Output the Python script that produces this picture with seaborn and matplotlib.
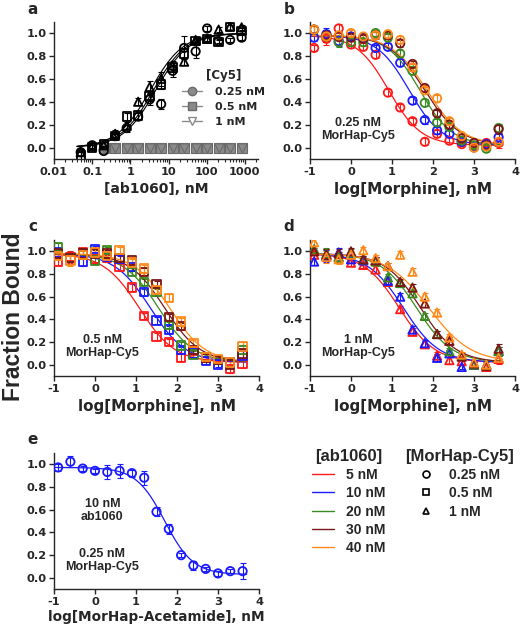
"""Competition / saturation binding curves for ab1060 and MorHap-Cy5."""

import numpy as np
import pandas as pd
import matplotlib
matplotlib.use("Agg")
import matplotlib.pyplot as plt
from matplotlib.lines import Line2D
from matplotlib.ticker import FuncFormatter, MultipleLocator, LogLocator, NullFormatter
import seaborn as sns

# ---------------- data ----------------
# panel a: saturation binding, x = [ab1060] in nM
a_conc = [0.05, 0.1, 0.2, 0.4, 0.8, 1.6, 3.2, 6.4, 12.8, 25.6, 51.2, 102.4, 204.8, 409.6, 819.2]
a_cy5_025 = [-0.04, 0.02, -0.03, 0.10, 0.17, 0.27, 0.42, 0.38, 0.67, 0.87, 0.84, 1.04, 0.93, 0.94, 0.96]
a_cy5_05 = [-0.07, 0.00, 0.03, 0.10, 0.27, 0.28, 0.45, 0.55, 0.70, 0.82, 0.93, 0.95, 0.92, 1.05, 1.02]
a_cy5_1 = [-0.04, 0.01, 0.02, 0.12, 0.19, 0.40, 0.53, 0.60, 0.72, 0.75, 0.94, 0.95, 1.03, 1.06, 1.05]
a_err_025 = [0.03, 0.02, 0.02, 0.03, 0.03, 0.03, 0.05, 0.04, 0.05, 0.10, 0.06, 0.02, 0.02, 0.02, 0.02]
a_err_05 = [0.03, 0.02, 0.02, 0.02, 0.03, 0.03, 0.04, 0.04, 0.04, 0.05, 0.02, 0.02, 0.02, 0.02, 0.02]
a_err_1 = [0.03, 0.02, 0.02, 0.03, 0.03, 0.03, 0.05, 0.06, 0.04, 0.03, 0.02, 0.02, 0.02, 0.03, 0.02]
a_ctrl_conc = [0.2, 0.4, 0.8, 1.6, 3.2, 6.4, 12.8, 25.6, 51.2, 102.4, 204.8, 409.6, 819.2]
a_ctrl = [0.0, 0.0, 0.0, 0.0, 0.0, 0.0, 0.0, 0.0, 0.0, 0.0, 0.0, 0.0, 0.0]
a_fit_ec50 = [4.6, 4.0, 3.3]
a_cy5_labels = ["0.25 nM", "0.5 nM", "1 nM"]

# panels b-e: competition, x = log[competitor] in nM
log_conc = [-0.9, -0.6, -0.3, 0.0, 0.3, 0.6, 0.9, 1.2, 1.5, 1.8, 2.1, 2.4, 2.7, 3.0, 3.3, 3.6]
ab_labels = ["5 nM", "10 nM", "20 nM", "30 nM", "40 nM"]
ab_colors = ["#ff1a1a", "#1a1aff", "#3a8a22", "#7a1616", "#ff8a1a"]

# b: 0.25 nM MorHap-Cy5 (circles)
b_5 = [0.87, 0.95, 1.04, 0.90, 0.88, 0.81, 0.48, 0.35, 0.23, 0.05, 0.12, 0.06, 0.03, 0.00, 0.04, 0.04]
b_10 = [0.96, 0.99, 0.93, 0.97, 0.96, 0.87, 0.88, 0.74, 0.41, 0.24, 0.15, 0.12, 0.05, 0.01, 0.03, 0.09]
b_20 = [1.03, 0.97, 0.92, 0.92, 0.92, 1.00, 0.96, 0.82, 0.67, 0.39, 0.22, 0.18, 0.06, 0.02, -0.01, 0.17]
b_30 = [1.03, 0.98, 0.97, 0.96, 0.95, 0.98, 0.98, 0.91, 0.73, 0.52, 0.30, 0.20, 0.08, 0.04, 0.02, 0.16]
b_40 = [1.03, 0.97, 0.98, 1.00, 0.97, 0.98, 0.99, 0.94, 0.70, 0.50, 0.43, 0.23, 0.10, 0.00, 0.01, 0.05]
b_ic50 = [0.92, 1.42, 1.68, 1.80, 1.85]
b_hill = [1.1, 1.1, 1.1, 1.0, 1.0]

# c: 0.5 nM MorHap-Cy5 (squares)
c_5 = [0.91, 0.95, 0.99, 0.93, 0.94, 0.86, 0.68, 0.43, 0.25, 0.20, 0.06, 0.12, 0.06, 0.04, -0.04, 0.01]
c_10 = [0.99, 0.94, 0.91, 1.02, 0.95, 0.93, 0.86, 0.64, 0.39, 0.31, 0.13, 0.10, 0.03, 0.00, 0.02, 0.08]
c_20 = [1.04, 0.94, 0.97, 0.92, 1.01, 0.94, 0.82, 0.73, 0.64, 0.35, 0.17, 0.09, 0.07, 0.04, 0.01, 0.13]
c_30 = [0.98, 0.94, 0.98, 0.98, 0.98, 0.94, 0.92, 0.82, 0.71, 0.42, 0.34, 0.13, 0.06, 0.04, 0.00, 0.10]
c_40 = [0.96, 0.92, 0.97, 0.99, 0.96, 1.01, 0.90, 0.85, 0.66, 0.59, 0.38, 0.19, 0.07, 0.05, 0.02, 0.16]
c_ic50 = [1.08, 1.35, 1.55, 1.70, 1.82]
c_hill = [1.0, 1.0, 1.0, 1.0, 1.0]

# d: 1 nM MorHap-Cy5 (triangles)
d_5 = [0.97, 0.97, 0.95, 0.90, 0.88, 0.84, 0.73, 0.49, 0.29, 0.18, 0.08, 0.04, 0.03, 0.00, -0.02, 0.05]
d_10 = [0.91, 0.96, 0.99, 0.93, 0.92, 0.92, 0.74, 0.60, 0.31, 0.19, 0.06, 0.10, -0.02, 0.00, 0.00, 0.12]
d_20 = [1.02, 0.98, 0.95, 0.99, 0.93, 0.91, 0.77, 0.72, 0.63, 0.43, 0.27, 0.12, 0.08, 0.00, 0.00, 0.12]
d_30 = [1.00, 0.97, 0.98, 1.00, 0.93, 0.92, 0.87, 0.73, 0.68, 0.54, 0.27, 0.21, 0.07, 0.01, -0.01, 0.14]
d_40 = [1.08, 0.95, 0.93, 0.97, 1.01, 0.94, 0.87, 0.97, 0.82, 0.60, 0.46, 0.24, 0.09, 0.02, 0.00, 0.06]
d_ic50 = [1.18, 1.28, 1.60, 1.70, 1.90]
d_hill = [1.0, 1.0, 1.0, 1.0, 0.85]

# e: MorHap-Acetamide competition, 10 nM ab1060, 0.25 nM MorHap-Cy5
e_frac = [0.97, 1.02, 0.96, 0.94, 0.93, 0.94, 0.92, 0.88, 0.58, 0.43, 0.20, 0.11, 0.08, 0.04, 0.06, 0.06]
e_err = [0.03, 0.05, 0.02, 0.02, 0.06, 0.06, 0.03, 0.06, 0.04, 0.04, 0.02, 0.04, 0.02, 0.02, 0.02, 0.07]
e_ic50 = 1.70
e_hill = 1.25

comp_err = [0.03, 0.05, 0.04, 0.03, 0.03, 0.03, 0.03, 0.03, 0.03, 0.03, 0.03, 0.03, 0.02, 0.02, 0.03, 0.04]

# ---------------- style ----------------
sns.set_style("ticks")
plt.rcParams["font.family"] = ["DejaVu Sans"]
plt.rcParams["font.weight"] = "bold"
plt.rcParams["axes.labelweight"] = "bold"
plt.rcParams["axes.unicode_minus"] = False
plt.rcParams["axes.linewidth"] = 1.0
plt.rcParams["xtick.major.width"] = 1.0
plt.rcParams["ytick.major.width"] = 1.0
plt.rcParams["xtick.major.size"] = 3.5
plt.rcParams["ytick.major.size"] = 3.5
plt.rcParams["xtick.labelsize"] = 8.2
plt.rcParams["ytick.labelsize"] = 8.2
plt.rcParams["axes.labelsize"] = 11

NARROW = ["Liberation Sans", "DejaVu Sans"]
W, H = 520, 633


def rect(left, right, top, bottom):
    """Axes rectangle from pixel edges."""
    return [left / W, 1 - bottom / H, (right - left) / W, (bottom - top) / H]


def logistic_up(x, ec50, hill=1.0, bottom=0.0, top=1.0):
    return bottom + (top - bottom) / (1 + (ec50 / x) ** hill)


def logistic_down(x, ic50, hill=1.0, bottom=0.02, top=0.98):
    return bottom + (top - bottom) / (1 + 10 ** ((x - ic50) * hill))


def hollow(ax):
    """Turn the last seaborn scatter into hollow markers."""
    coll = ax.collections[-1]
    fc = coll.get_facecolors()
    coll.set_edgecolors(fc)
    coll.set_facecolors("none")


def style_axes(ax):
    sns.despine(ax=ax)
    ax.set_ylim(-0.1, 1.1)
    ax.yaxis.set_major_locator(MultipleLocator(0.2))
    ax.yaxis.set_major_formatter(FuncFormatter(lambda v, _: f"{v:.1f}"))
    ax.set_ylabel("")
    ax.tick_params(pad=2)


def note(ax, x, y, text):
    ax.text(x, y, text, ha="center", va="top", fontsize=9, fontweight="bold",
            family=NARROW, linespacing=1.1)


def competition_panel(ax, series, ic50s, hills, marker, text):
    rows = []
    for lab, vals in zip(ab_labels, series):
        for x, y in zip(log_conc, vals):
            rows.append({"x": x, "y": y, "ab": lab})
    df = pd.DataFrame(rows)
    xs = np.linspace(-1, 3.7, 200)
    for lab, col, vals, ic, h in zip(ab_labels, ab_colors, series, ic50s, hills):
        ax.errorbar(log_conc, vals, yerr=comp_err, fmt="none", ecolor=col,
                    elinewidth=0.8, capsize=2, capthick=0.8, zorder=1)
        sns.lineplot(x=xs, y=logistic_down(xs, ic, h), color=col, lw=0.9, ax=ax, zorder=2)
    sns.scatterplot(data=df, x="x", y="y", hue="ab", palette=ab_colors, marker=marker,
                    s=36, linewidth=1.3, legend=False, ax=ax, zorder=3)
    hollow(ax)
    ax.set_xlim(-1, 4)
    ax.xaxis.set_major_locator(MultipleLocator(1))
    ax.set_xlabel("log[Morphine], nM", labelpad=4)
    note(ax, 0.18, 0.27, text)
    style_axes(ax)


fig = plt.figure(figsize=(5.2, 6.33), dpi=100)

# ---------------- panel a ----------------
ax_a = fig.add_axes(rect(54, 258, 21.6, 159))
grey = "#8a8a8a"
for m in ["o", "s", "v"]:
    sns.scatterplot(x=a_ctrl_conc, y=a_ctrl, marker=m, s=44, color=grey,
                    edgecolor="#6a6a6a", linewidth=0.8, ax=ax_a, zorder=2)
xs_a = np.logspace(np.log10(0.04), np.log10(900), 200)
for ec in a_fit_ec50:
    sns.lineplot(x=xs_a, y=logistic_up(xs_a, ec), color="black", lw=0.8, ax=ax_a, zorder=2)
a_rows = []
for lab, vals, err in zip(a_cy5_labels, [a_cy5_025, a_cy5_05, a_cy5_1],
                          [a_err_025, a_err_05, a_err_1]):
    ax_a.errorbar(a_conc, vals, yerr=err, fmt="none", ecolor="black",
                  elinewidth=0.8, capsize=2, capthick=0.8, zorder=1)
    for x, y in zip(a_conc, vals):
        a_rows.append({"x": x, "y": y, "cy5": lab})
a_df = pd.DataFrame(a_rows)
sns.scatterplot(data=a_df, x="x", y="y", style="cy5", markers=["o", "s", "^"],
                color="black", s=36, linewidth=1.3, legend=False, ax=ax_a, zorder=3)
coll = ax_a.collections[-1]
coll.set_edgecolors("black")
coll.set_facecolors("none")
ax_a.set_xscale("log")
ax_a.set_xlim(0.01, 2200)
ax_a.xaxis.set_major_locator(LogLocator(base=10, numticks=10))
ax_a.xaxis.set_minor_locator(LogLocator(base=10, subs=np.arange(2, 10), numticks=20))
ax_a.xaxis.set_minor_formatter(NullFormatter())
ax_a.xaxis.set_major_formatter(FuncFormatter(lambda v, _: f"{v:g}"))
ax_a.tick_params(axis="x", which="minor", length=2, width=0.8)
ax_a.set_xlabel("[ab1060], nM", labelpad=4, fontsize=10)
style_axes(ax_a)
a_handles = [
    Line2D([], [], color=grey, lw=1, marker="o", ms=6, mfc=grey, mec="#6a6a6a"),
    Line2D([], [], color=grey, lw=1, marker="s", ms=6, mfc=grey, mec="#6a6a6a"),
    Line2D([], [], color=grey, lw=1, marker="v", ms=6, mfc="white", mec=grey),
]
ax_a.legend(a_handles, a_cy5_labels, title="[Cy5]", loc="upper left",
            bbox_to_anchor=(0.627, 0.655), frameon=False, fontsize=8,
            title_fontproperties={"weight": "bold", "size": 8.5},
            handlelength=1.8, handletextpad=1.2, labelspacing=0.45,
            borderpad=0, borderaxespad=0)

# ---------------- panels b, c, d ----------------
ax_b = fig.add_axes(rect(310, 515, 21.6, 159))
competition_panel(ax_b, [b_5, b_10, b_20, b_30, b_40], b_ic50, b_hill, "o",
                  "0.25 nM\nMorHap-Cy5")
ax_c = fig.add_axes(rect(54, 259, 240, 376))
competition_panel(ax_c, [c_5, c_10, c_20, c_30, c_40], c_ic50, c_hill, "s",
                  "0.5 nM\nMorHap-Cy5")
ax_d = fig.add_axes(rect(310, 515, 240, 376))
competition_panel(ax_d, [d_5, d_10, d_20, d_30, d_40], d_ic50, d_hill, "^",
                  "1 nM\nMorHap-Cy5")

# ---------------- panel e ----------------
ax_e = fig.add_axes(rect(54, 259, 452.6, 589.4))
xs_e = np.linspace(-1, 3.7, 200)
ax_e.errorbar(log_conc, e_frac, yerr=e_err, fmt="none", ecolor=ab_colors[1],
              elinewidth=0.8, capsize=2, capthick=0.8, zorder=1)
sns.lineplot(x=xs_e, y=logistic_down(xs_e, e_ic50, e_hill, 0.03, 0.97),
             color=ab_colors[1], lw=0.9, ax=ax_e, zorder=2)
sns.scatterplot(x=log_conc, y=e_frac, color=ab_colors[1], marker="o", s=36,
                linewidth=1.3, ax=ax_e, zorder=3)
hollow(ax_e)
ax_e.set_xlim(-1, 4)
ax_e.xaxis.set_major_locator(MultipleLocator(1))
ax_e.set_xlabel("log[MorHap-Acetamide], nM", labelpad=2, fontsize=9.8)
note(ax_e, 0.18, 0.70, "10 nM\nab1060")
note(ax_e, 0.18, 0.26, "0.25 nM\nMorHap-Cy5")
style_axes(ax_e)

# ---------------- shared legends ----------------
ab_handles = [Line2D([], [], color=c, lw=1) for c in ab_colors]
fig.legend(ab_handles, ab_labels, title="[ab1060]", loc="upper left",
           bbox_to_anchor=(312 / W, 1 - 449 / H), frameon=False,
           prop={"family": NARROW, "weight": "bold", "size": 10},
           title_fontproperties={"family": NARROW, "weight": "bold", "size": 12},
           handlelength=1.6, handletextpad=0.85, labelspacing=0.3,
           borderpad=0, borderaxespad=0)
mk_handles = [Line2D([], [], ls="none", marker=m, ms=5, mfc="none", mec="black", mew=1.2)
              for m in ["o", "s", "^"]]
fig.legend(mk_handles, ["0.25 nM", "0.5 nM", "1 nM"], title="[MorHap-Cy5]",
           loc="upper left", bbox_to_anchor=(405 / W, 1 - 449 / H), frameon=False,
           prop={"family": NARROW, "weight": "bold", "size": 10},
           title_fontproperties={"family": NARROW, "weight": "bold", "size": 12},
           handlelength=1.0, handletextpad=1.15, labelspacing=0.3,
           borderpad=0, borderaxespad=0)

# ---------------- labels ----------------
fig.text(14 / W, 0.5, "Fraction Bound", rotation=90, ha="center", va="center",
         fontsize=16.5, fontweight="bold", family=NARROW)
for lab, px, py in [("a", 33, 10), ("b", 289, 10), ("c", 33, 226), ("d", 289, 226),
                    ("e", 33, 440)]:
    fig.text(px / W, 1 - py / H, lab, ha="center", va="center", fontsize=11,
             fontweight="bold")

plt.savefig("out.png", dpi=100)
plt.close()
